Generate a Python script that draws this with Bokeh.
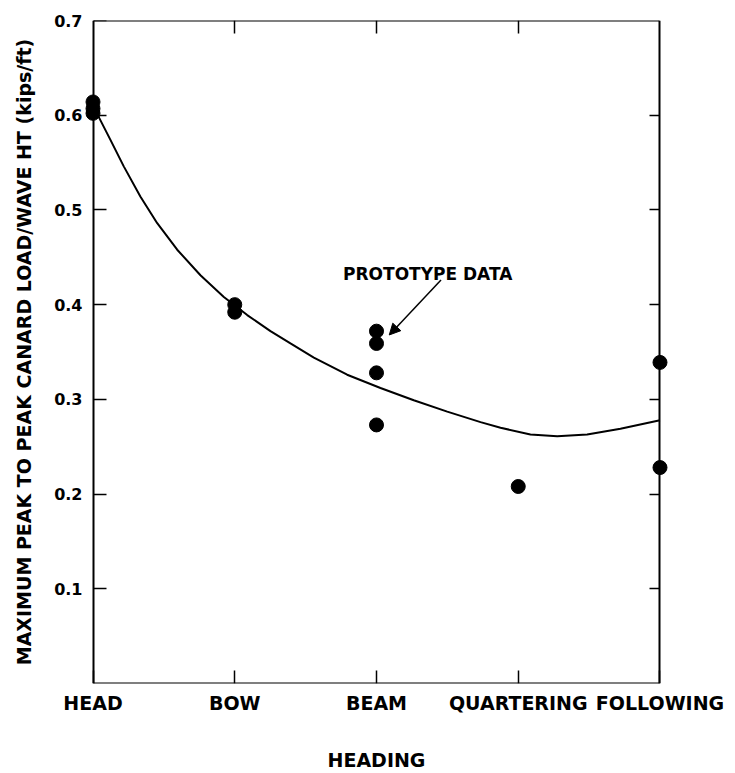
from bokeh.plotting import figure
from bokeh.models import (Range1d, LinearAxis, FixedTicker, Label,
                          Arrow, NormalHead, ColumnDataSource)
from bokeh.embed import file_html
from bokeh.resources import INLINE

# ---- data ----
headings = ["HEAD", "BOW", "BEAM", "QUARTERING", "FOLLOWING"]
heading_pos = [0, 1, 2, 3, 4]
point_heading = [0, 0, 0, 1, 1, 2, 2, 2, 2, 3, 4, 4]
point_load = [0.614, 0.607, 0.602, 0.400, 0.392, 0.372, 0.359, 0.328, 0.273, 0.208, 0.339, 0.228]
curve_heading = [0, 0.041, 0.123, 0.217, 0.335, 0.453, 0.594, 0.758, 0.923, 1.088, 1.252,
                 1.393, 1.558, 1.793, 2.028, 2.263, 2.499, 2.734, 2.875, 3.086, 3.275,
                 3.486, 3.721, 4.0]
curve_load = [0.606, 0.598, 0.574, 0.546, 0.514, 0.486, 0.458, 0.431, 0.408, 0.389, 0.372,
              0.359, 0.344, 0.326, 0.312, 0.299, 0.287, 0.276, 0.270, 0.263, 0.261,
              0.263, 0.269, 0.278]
y_ticks = [0.1, 0.2, 0.3, 0.4, 0.5, 0.6, 0.7]

FONT = "DejaVu Sans"

p = figure(width=735, height=773, output_backend="svg", toolbar_location=None,
           x_range=Range1d(-0.06, 4.06), y_range=Range1d(0, 0.7),
           x_axis_location=None, y_axis_location=None,
           min_border_left=84, min_border_right=67, min_border_top=20, min_border_bottom=88)
p.grid.visible = False
p.outline_line_color = None
p.background_fill_color = "white"
p.border_fill_color = "white"


def hide_line_ticks(ax):
    ax.axis_line_color = None
    ax.major_tick_line_color = None
    ax.minor_tick_line_color = None
    ax.major_tick_in = 0
    ax.major_tick_out = 0
    ax.minor_tick_in = 0
    ax.minor_tick_out = 0
    ax.major_label_text_color = "black"
    ax.axis_label_text_color = "black"


def frame_axis(ax, tick_in):
    ax.major_tick_in = tick_in
    ax.major_tick_out = 0
    ax.minor_tick_in = 0
    ax.minor_tick_out = 0
    ax.axis_line_width = 2
    ax.major_tick_line_width = 1.5
    ax.axis_line_color = "black"
    ax.major_tick_line_color = "black"
    ax.major_label_text_font_size = "0px"
    ax.major_label_text_color = None
    ax.major_label_standoff = 0


# labelled left axis
left = LinearAxis(ticker=FixedTicker(ticks=y_ticks))
hide_line_ticks(left)
left.major_label_text_font = FONT
left.major_label_text_font_style = "bold"
left.major_label_text_font_size = "16px"
left.major_label_standoff = 2
left.axis_label = "MAXIMUM PEAK TO PEAK CANARD LOAD/WAVE HT (kips/ft)"
left.axis_label_text_font = FONT
left.axis_label_text_font_style = "bold"
left.axis_label_text_font_size = "19px"
left.axis_label_standoff = 16
p.add_layout(left, "left")

# labelled bottom axis
bottom = LinearAxis(ticker=FixedTicker(ticks=heading_pos))
bottom.major_label_overrides = {i: h for i, h in zip(heading_pos, headings)}
hide_line_ticks(bottom)
bottom.major_label_text_font = FONT
bottom.major_label_text_font_style = "bold"
bottom.major_label_text_font_size = "19px"
bottom.major_label_standoff = 8
bottom.axis_label = "HEADING"
bottom.axis_label_text_font = FONT
bottom.axis_label_text_font_style = "bold"
bottom.axis_label_text_font_size = "19px"
bottom.axis_label_standoff = 32
p.add_layout(bottom, "below")

# frame axes (lines + inward ticks) at the data limits
fl = LinearAxis(ticker=FixedTicker(ticks=y_ticks), fixed_location=0, bounds=(0, 0.7))
frame_axis(fl, 13)
p.add_layout(fl, "left")
fb = LinearAxis(ticker=FixedTicker(ticks=heading_pos), fixed_location=0, bounds=(0, 4))
frame_axis(fb, 13)
p.add_layout(fb, "below")
ft = LinearAxis(ticker=FixedTicker(ticks=heading_pos[1:-1]), fixed_location=0.7, bounds=(0, 4))
frame_axis(ft, 13)
p.add_layout(ft, "above")
fr = LinearAxis(ticker=FixedTicker(ticks=y_ticks[:-1]), fixed_location=4, bounds=(0, 0.7))
frame_axis(fr, 10)
p.add_layout(fr, "right")

# fitted curve
p.line(curve_heading, curve_load, line_color="black", line_width=2)

# data points
src = ColumnDataSource(dict(x=point_heading, y=point_load))
p.scatter("x", "y", source=src, size=14, fill_color="black", line_color="black")

# annotation
p.add_layout(Label(x=1.764, y=0.432, text="PROTOTYPE DATA", text_font=FONT,
                   text_font_style="bold", text_font_size="17px",
                   text_baseline="alphabetic", text_color="black"))
p.add_layout(Arrow(x_start=2.455, y_start=0.426, x_end=2.09, y_end=0.368,
                   line_width=1.5, line_color="black",
                   end=NormalHead(size=11, fill_color="black", line_color="black")))

open("out.html", "w").write(file_html(p, INLINE))
